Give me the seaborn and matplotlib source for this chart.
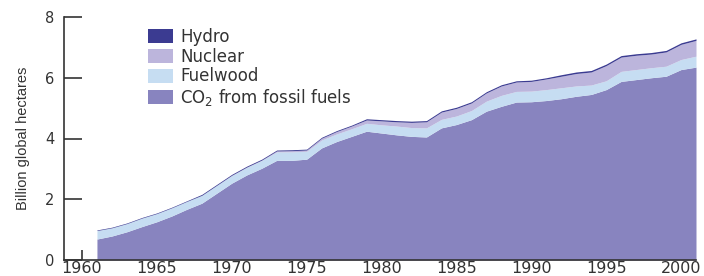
import matplotlib
matplotlib.use("Agg")
import matplotlib.pyplot as plt
import seaborn as sns
import numpy as np

# 数据（十亿全球公顷）
years = list(range(1961, 2002))
fossil = [0.69, 0.79, 0.93, 1.10, 1.26, 1.45, 1.67, 1.87, 2.20, 2.53,
          2.80, 3.02, 3.28, 3.28, 3.32, 3.69, 3.90, 4.07, 4.24, 4.18,
          4.12, 4.07, 4.05, 4.35, 4.46, 4.62, 4.90, 5.06, 5.20, 5.21,
          5.25, 5.31, 5.39, 5.45, 5.61, 5.88, 5.94, 6.00, 6.05, 6.27, 6.35]
fuelwood = [0.28, 0.27, 0.27, 0.28, 0.27, 0.27, 0.26, 0.26, 0.26, 0.25,
            0.25, 0.26, 0.28, 0.28, 0.26, 0.26, 0.25, 0.25, 0.26, 0.27,
            0.29, 0.29, 0.30, 0.28, 0.28, 0.30, 0.33, 0.36, 0.35, 0.35,
            0.36, 0.36, 0.34, 0.31, 0.29, 0.33, 0.33, 0.33, 0.33, 0.33, 0.36]
nuclear = [0.00, 0.00, 0.00, 0.00, 0.00, 0.00, 0.00, 0.00, 0.00, 0.01,
           0.01, 0.01, 0.03, 0.04, 0.04, 0.06, 0.08, 0.09, 0.11, 0.13,
           0.14, 0.17, 0.20, 0.24, 0.25, 0.25, 0.27, 0.31, 0.31, 0.32,
           0.35, 0.38, 0.41, 0.43, 0.50, 0.47, 0.47, 0.45, 0.47, 0.50, 0.52]
hydro = [0.02, 0.02, 0.02, 0.02, 0.02, 0.02, 0.02, 0.03, 0.03, 0.03,
         0.03, 0.03, 0.03, 0.03, 0.03, 0.03, 0.03, 0.03, 0.04, 0.04,
         0.04, 0.04, 0.04, 0.04, 0.04, 0.04, 0.04, 0.04, 0.04, 0.04,
         0.04, 0.05, 0.05, 0.05, 0.05, 0.05, 0.05, 0.05, 0.05, 0.05, 0.05]

labels = ["CO$_2$ from fossil fuels", "Fuelwood", "Nuclear", "Hydro"]
colors = ["#8884bf", "#c6ddf2", "#bcb5dc", "#3b3b91"]

sns.set_theme(style="ticks")
plt.rcParams['font.family'] = ['DejaVu Sans']
plt.rcParams['mathtext.fontset'] = 'dejavusans'

fig = plt.figure(figsize=(7.04, 2.76), dpi=100)
ax = fig.add_axes([64 / 704, 16 / 276, 632 / 704, 243 / 276])

ax.stackplot(years, fossil, fuelwood, nuclear, hydro,
             colors=colors, labels=labels, linewidth=0)

ax.set_xlim(1958.8, 2001)
ax.set_ylim(0, 8)
ax.set_xticks(range(1960, 2001, 5))
ax.set_yticks([0, 2, 4, 6, 8])

sns.despine(ax=ax)
for s in ["left", "bottom"]:
    ax.spines[s].set_color("#333333")
    ax.spines[s].set_linewidth(1.2)
ax.tick_params(axis="y", direction="in", length=13, width=1.2, color="#333333",
               labelsize=10.5, pad=7, labelcolor="#333333")
ax.tick_params(axis="x", direction="in", length=7, width=1.2, color="#333333",
               labelsize=11.5, pad=1, labelcolor="#333333")

ax.set_ylabel("Billion global hectares", fontsize=10.5,
              family=['Liberation Sans Narrow', 'Liberation Sans'],
              color="#333333", labelpad=11)

handles, labs = ax.get_legend_handles_labels()
fig.legend(handles[::-1], labs[::-1], loc="upper left",
           bbox_to_anchor=(148 / 704, 1 - 28 / 276), frameon=False,
           fontsize=12, handlelength=1.5, handleheight=0.9,
           handletextpad=0.42, labelspacing=0.1, borderpad=0, borderaxespad=0,
           labelcolor="#333333")

fig.savefig("out.png", dpi=100, facecolor="white")
